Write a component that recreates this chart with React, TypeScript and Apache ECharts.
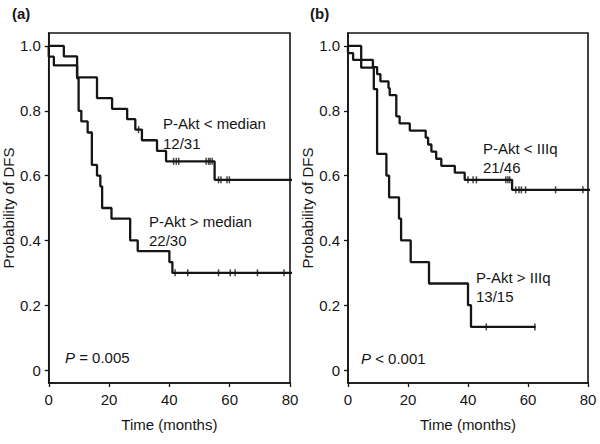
import React, { useEffect, useRef } from "react";
import * as echarts from "echarts";

const xTicks = [0, 20, 40, 60, 80];
const yTicks = [0, 0.2, 0.4, 0.6, 0.8, 1.0];

// Panel (a): P-Akt < median (12/31)
const aUpTimes = [0, 5.0, 9.4, 16.0, 21.0, 26.0, 28.7, 30.9, 35.9, 38.9, 55.0, 81];
const aUpSurv = [1, 0.968, 0.903, 0.839, 0.806, 0.774, 0.742, 0.709, 0.676, 0.644, 0.587, 0.587];
const aUpCensor = [29.8, 41.4, 42.3, 43.1, 52.2, 53.0, 53.5, 54.2, 56.3, 57.1, 59.1, 59.9];

// Panel (a): P-Akt > median (22/30)
const aLowTimes = [0, 0, 1.7, 9.4, 9.9, 10.8, 12.9, 14.3, 16.0, 17.1, 17.7, 20.8, 27.0, 29.5, 40.0, 41.0, 81];
const aLowSurv = [1, 0.967, 0.94, 0.9, 0.8, 0.767, 0.733, 0.633, 0.6, 0.567, 0.5, 0.467, 0.4, 0.367, 0.333, 0.3, 0.3];
const aLowCensor = [41.9, 46.1, 56.3, 60.2, 61.8, 69.2, 78.0];

// Panel (b): P-Akt < IIIq (21/46)
const bUpTimes = [0, 0, 1.7, 8.3, 9.7, 10.8, 13.5, 13.9, 16.1, 17.2, 20.6, 25.9, 26.7, 27.8, 29.4, 31.1, 35.6, 38.9, 54.7, 81];
const bUpSurv = [1, 0.978, 0.957, 0.935, 0.913, 0.891, 0.870, 0.848, 0.783, 0.761, 0.739, 0.717, 0.696, 0.674, 0.652, 0.630, 0.609, 0.587, 0.556, 0.556];
const bUpCensor = [40.0, 41.7, 42.8, 52.6, 53.3, 53.9, 55.9, 57.0, 57.8, 59.2, 69.2, 78.3];

// Panel (b): P-Akt > IIIq (13/15)
const bLowTimes = [0, 4.4, 8.6, 9.7, 12.8, 13.7, 17.0, 17.7, 20.9, 27.0, 40.0, 41.0, 62.5];
const bLowSurv = [1, 0.933, 0.867, 0.667, 0.6, 0.533, 0.467, 0.4, 0.333, 0.267, 0.2, 0.133, 0.133];
const bLowCensor = [46.1, 62.3];

const FONT = '"Liberation Sans", Arial, Helvetica, sans-serif';
const INK = "#151515";

function survAt(times: number[], surv: number[], t: number) {
  let v = surv[0];
  for (let i = 0; i < times.length; i++) if (times[i] <= t) v = surv[i];
  return v;
}

function stepSeries(times: number[], surv: number[], idx: number) {
  return {
    type: "line",
    step: "end",
    xAxisIndex: idx,
    yAxisIndex: idx,
    symbol: "none",
    clip: false,
    lineStyle: { color: INK, width: 2.3 },
    data: times.map((t, i) => [t, surv[i]]),
    z: 3,
  };
}

function censorSeries(times: number[], surv: number[], cens: number[], idx: number) {
  return {
    type: "scatter",
    xAxisIndex: idx,
    yAxisIndex: idx,
    symbol: "rect",
    symbolSize: [1.5, 7],
    itemStyle: { color: INK },
    data: cens.map((t) => [t, survAt(times, surv, t)]),
    z: 4,
  };
}

function xAxis(idx: number) {
  return {
    type: "value",
    gridIndex: idx,
    min: 0,
    max: 80,
    interval: 20,
    name: "Time (months)",
    nameLocation: "middle",
    nameGap: 34,
    nameTextStyle: { fontFamily: FONT, fontSize: 15, color: INK },
    axisLine: { show: true, onZero: false, lineStyle: { color: INK, width: 1.6 } },
    axisTick: { show: true, length: 4, inside: false, lineStyle: { color: INK, width: 1.3 } },
    axisLabel: { show: true, margin: 9, fontFamily: FONT, fontSize: 15, color: INK },
    splitLine: { show: false },
  };
}

function yAxis(idx: number) {
  return {
    type: "value",
    gridIndex: idx,
    min: -0.04,
    max: 1.04,
    name: "Probability of DFS",
    nameLocation: "middle",
    nameGap: 29,
    nameTextStyle: { fontFamily: FONT, fontSize: 15, color: INK },
    axisLine: { show: true, onZero: false, lineStyle: { color: INK, width: 1.6 } },
    axisTick: { show: true, length: 4, inside: false, customValues: yTicks, lineStyle: { color: INK, width: 1.3 } },
    axisLabel: {
      show: true,
      margin: 8,
      customValues: yTicks,
      fontFamily: FONT,
      fontSize: 15,
      color: INK,
      formatter: (v: number) => (Math.abs(v) < 1e-9 ? "0" : v.toFixed(1)),
    },
    splitLine: { show: false },
  };
}

function txt(text: string, x: number, y: number, extra: any = {}) {
  return {
    type: "text",
    x,
    y,
    style: {
      text,
      fill: INK,
      fontFamily: FONT,
      fontSize: 15,
      verticalAlign: "middle",
      rich: { i: { fontStyle: "italic", fontFamily: FONT, fontSize: 15, fill: INK } },
      ...extra,
    },
    z: 10,
  };
}

export default function App() {
  const ref = useRef<HTMLDivElement>(null);
  useEffect(() => {
    if (!ref.current) return;
    const chart = echarts.init(ref.current, null, { renderer: "svg" });
    chart.setOption({
      animation: false,
      backgroundColor: "#ffffff",
      grid: [
        { left: 48, top: 33, width: 242, height: 350, show: true, borderColor: INK, borderWidth: 1.6, backgroundColor: "transparent" },
        { left: 348, top: 33, width: 240, height: 350, show: true, borderColor: INK, borderWidth: 1.6, backgroundColor: "transparent" },
      ],
      xAxis: [xAxis(0), xAxis(1)],
      yAxis: [yAxis(0), yAxis(1)],
      series: [
        stepSeries(aUpTimes, aUpSurv, 0),
        stepSeries(aLowTimes, aLowSurv, 0),
        censorSeries(aUpTimes, aUpSurv, aUpCensor, 0),
        censorSeries(aLowTimes, aLowSurv, aLowCensor, 0),
        stepSeries(bUpTimes, bUpSurv, 1),
        stepSeries(bLowTimes, bLowSurv, 1),
        censorSeries(bUpTimes, bUpSurv, bUpCensor, 1),
        censorSeries(bLowTimes, bLowSurv, bLowCensor, 1),
      ],
      graphic: [
        txt("(a)", 12, 13, { fontWeight: "bold" }),
        txt("(b)", 310, 13, { fontWeight: "bold" }),
        txt("P-Akt < median", 163, 123),
        txt("12/31", 163, 143),
        txt("P-Akt > median", 149, 221),
        txt("22/30", 149, 240),
        txt("{i|P} = 0.005", 65, 357),
        txt("P-Akt < IIIq", 483, 148),
        txt("21/46", 483, 167),
        txt("P-Akt > IIIq", 476, 277),
        txt("13/15", 476, 296),
        txt("{i|P} < 0.001", 361, 358),
      ],
    });
    return () => chart.dispose();
  }, []);
  return (
    <div
      ref={ref}
      style={{ position: "fixed", left: 0, top: 0, width: 600, height: 444, background: "#fff" }}
    />
  );
}
